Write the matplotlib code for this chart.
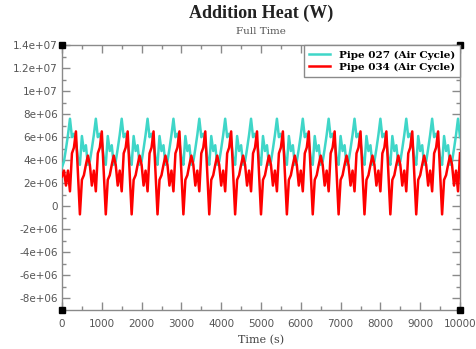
import numpy as np
import matplotlib
matplotlib.use("Agg")
import matplotlib.pyplot as plt
from matplotlib.ticker import MultipleLocator, FuncFormatter

# time samples (s)
time_s = np.arange(0, 10001, 50)

# Pipe 027 (Air Cycle), values in units of 1e6 W
pipe027 = [
    3.4, 3.9, 5.0, 6.2, 7.6, 6.0, 6.3, 5.6, 4.2, 3.6, 6.1, 4.8, 5.3,
    3.6, 3.9, 5.0, 6.2, 7.6, 6.0, 6.3, 5.6, 4.2, 3.6, 6.1, 4.8, 5.3,
    3.6, 3.9, 5.0, 6.2, 7.6, 6.0, 6.3, 5.6, 4.2, 3.6, 6.1, 4.8, 5.3,
    3.6, 3.9, 5.0, 6.2, 7.6, 6.0, 6.3, 5.6, 4.2, 3.6, 6.1, 4.8, 5.3,
    3.6, 3.9, 5.0, 6.2, 7.6, 6.0, 6.3, 5.6, 4.2, 3.6, 6.1, 4.8, 5.3,
    3.6, 3.9, 5.0, 6.2, 7.6, 6.0, 6.3, 5.6, 4.2, 3.6, 6.1, 4.8, 5.3,
    3.6, 3.9, 5.0, 6.2, 7.6, 6.0, 6.3, 5.6, 4.2, 3.6, 6.1, 4.8, 5.3,
    3.6, 3.9, 5.0, 6.2, 7.6, 6.0, 6.3, 5.6, 4.2, 3.6, 6.1, 4.8, 5.3,
    3.6, 3.9, 5.0, 6.2, 7.6, 6.0, 6.3, 5.6, 4.2, 3.6, 6.1, 4.8, 5.3,
    3.6, 3.9, 5.0, 6.2, 7.6, 6.0, 6.3, 5.6, 4.2, 3.6, 6.1, 4.8, 5.3,
    3.6, 3.9, 5.0, 6.2, 7.6, 6.0, 6.3, 5.6, 4.2, 3.6, 6.1, 4.8, 5.3,
    3.6, 3.9, 5.0, 6.2, 7.6, 6.0, 6.3, 5.6, 4.2, 3.6, 6.1, 4.8, 5.3,
    3.6, 3.9, 5.0, 6.2, 7.6, 6.0, 6.3, 5.6, 4.2, 3.6, 6.1, 4.8, 5.3,
    3.6, 3.9, 5.0, 6.2, 7.6, 6.0, 6.3, 5.6, 4.2, 3.6, 6.1, 4.8, 5.3,
    3.6, 3.9, 5.0, 6.2, 7.6, 6.0, 6.3, 5.6, 4.2, 3.6, 6.1, 4.8, 5.3,
    3.6, 3.9, 5.0, 6.2, 7.6, 6.0,
]

# Pipe 034 (Air Cycle), values in units of 1e6 W
pipe034 = [
    2.6, 3.1, 1.8, 3.1, 1.3, 4.6, 5.1, 6.5, 2.9, -0.7, 2.3, 2.7, 3.6,
    4.4, 3.6, 1.8, 3.1, 1.3, 4.6, 5.1, 6.5, 2.9, -0.7, 2.3, 2.7, 3.6,
    4.4, 3.6, 1.8, 3.1, 1.3, 4.6, 5.1, 6.5, 2.9, -0.7, 2.3, 2.7, 3.6,
    4.4, 3.6, 1.8, 3.1, 1.3, 4.6, 5.1, 6.5, 2.9, -0.7, 2.3, 2.7, 3.6,
    4.4, 3.6, 1.8, 3.1, 1.3, 4.6, 5.1, 6.5, 2.9, -0.7, 2.3, 2.7, 3.6,
    4.4, 3.6, 1.8, 3.1, 1.3, 4.6, 5.1, 6.5, 2.9, -0.7, 2.3, 2.7, 3.6,
    4.4, 3.6, 1.8, 3.1, 1.3, 4.6, 5.1, 6.5, 2.9, -0.7, 2.3, 2.7, 3.6,
    4.4, 3.6, 1.8, 3.1, 1.3, 4.6, 5.1, 6.5, 2.9, -0.7, 2.3, 2.7, 3.6,
    4.4, 3.6, 1.8, 3.1, 1.3, 4.6, 5.1, 6.5, 2.9, -0.7, 2.3, 2.7, 3.6,
    4.4, 3.6, 1.8, 3.1, 1.3, 4.6, 5.1, 6.5, 2.9, -0.7, 2.3, 2.7, 3.6,
    4.4, 3.6, 1.8, 3.1, 1.3, 4.6, 5.1, 6.5, 2.9, -0.7, 2.3, 2.7, 3.6,
    4.4, 3.6, 1.8, 3.1, 1.3, 4.6, 5.1, 6.5, 2.9, -0.7, 2.3, 2.7, 3.6,
    4.4, 3.6, 1.8, 3.1, 1.3, 4.6, 5.1, 6.5, 2.9, -0.7, 2.3, 2.7, 3.6,
    4.4, 3.6, 1.8, 3.1, 1.3, 4.6, 5.1, 6.5, 2.9, -0.7, 2.3, 2.7, 3.6,
    4.4, 3.6, 1.8, 3.1, 1.3, 4.6, 5.1, 6.5, 2.9, -0.7, 2.3, 2.7, 3.6,
    4.4, 3.6, 1.8, 3.1, 1.3, 4.6,
]

series_labels = ["Pipe 027 (Air Cycle)", "Pipe 034 (Air Cycle)"]
series_colors = ["#3fd6c8", "#ff0000"]
title = "Addition Heat (W)"
subtitle = "Full Time"
xlabel = "Time (s)"

SCALE = 1e6
n = min(len(time_s), len(pipe027), len(pipe034))

fig = plt.figure(figsize=(4.76, 3.49), dpi=100)
ax = fig.add_axes([62 / 476, 1 - 310 / 349, (460 - 62) / 476, (310 - 45) / 349])

ax.plot(time_s[:n], np.array(pipe027[:n]) * SCALE, color=series_colors[0], lw=1.8,
        label=series_labels[0], zorder=3)
ax.plot(time_s[:n], np.array(pipe034[:n]) * SCALE, color=series_colors[1], lw=1.8,
        label=series_labels[1], zorder=4)

ax.set_xlim(0, 10000)
ax.set_ylim(-9e6, 1.4e7)

spine_col = "#8a8a8a"
for s in ax.spines.values():
    s.set_color(spine_col)
    s.set_linewidth(1.0)

ax.xaxis.set_major_locator(MultipleLocator(1000))
ax.xaxis.set_minor_locator(MultipleLocator(500))
ax.yaxis.set_major_locator(MultipleLocator(2e6))
ax.yaxis.set_minor_locator(MultipleLocator(1e6))
ax.yaxis.set_major_formatter(FuncFormatter(lambda v, p: "%g" % v if v > -8.5e6 else ""))
ax.xaxis.set_major_formatter(FuncFormatter(lambda v, p: "%g" % v))

ax.tick_params(which="both", direction="in", top=True, right=True, color=spine_col,
               labelcolor="#555555", labelsize=7.5, width=1.0)
ax.tick_params(which="major", length=6)
ax.tick_params(which="minor", length=3)
ax.tick_params(axis="y", which="major", pad=3)
ax.tick_params(axis="x", which="major", pad=6.5)
for lab in ax.get_xticklabels() + ax.get_yticklabels():
    lab.set_family("DejaVu Sans")

# corner squares
for cx in (0, 1):
    for cy in (0, 1):
        ax.plot([cx], [cy], marker="s", ms=5, color="black", transform=ax.transAxes,
                clip_on=False, zorder=10)

cx_fig = 261 / 476
fig.text(cx_fig, 1 - 13 / 349, title, ha="center", va="center",
         family="Liberation Serif", fontweight="bold", fontsize=13, color="#222222")
fig.text(cx_fig, 1 - 31 / 349, subtitle, ha="center", va="center",
         family="DejaVu Serif", fontsize=7.5, color="#555555")
ax.set_xlabel(xlabel, family="DejaVu Serif", fontsize=8, color="#444444", labelpad=4)

leg = ax.legend(loc="upper right", borderaxespad=0.0, fancybox=False, framealpha=1,
                edgecolor=spine_col, prop={"family": "DejaVu Serif", "weight": "bold", "size": 7.5},
                handlelength=2.0, handletextpad=0.8, borderpad=0.5, labelspacing=0.3)
leg.get_frame().set_linewidth(1.0)
leg.set_zorder(20)

fig.savefig("out.png", dpi=100)
